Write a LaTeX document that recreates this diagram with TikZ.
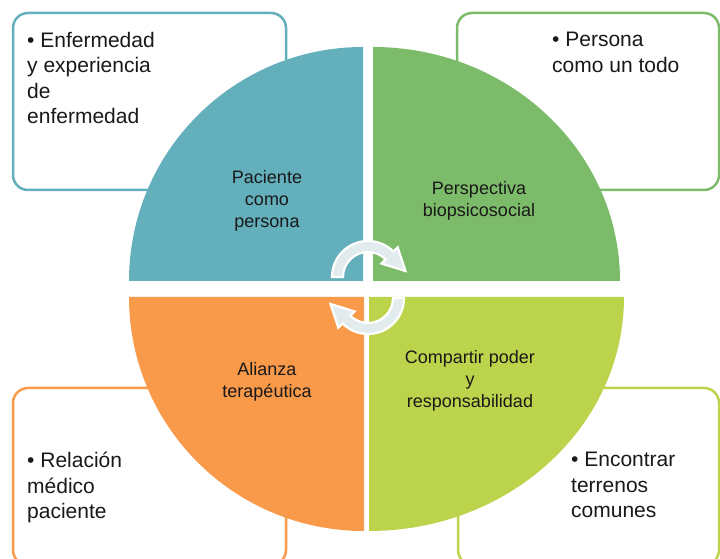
\documentclass[tikz,border=0pt]{standalone}
\usepackage{fontspec}
\setmainfont{Liberation Sans}

\definecolor{quadteal}{RGB}{99,176,188}
\definecolor{quadgreen}{RGB}{124,187,105}
\definecolor{quadorange}{RGB}{249,153,74}
\definecolor{quadlime}{RGB}{187,212,75}
\definecolor{arrowgray}{RGB}{226,236,239}
\definecolor{textgray}{RGB}{25,25,25}

\begin{document}
\begin{tikzpicture} [x=1pt,y=1pt,
			info box/.style={draw,rounded corners=15pt,line width=2.5pt,fill=white,minimum height=177pt},
			bullet text/.style={anchor=north west,inner sep=0pt,align=left,text=textgray,font=\fontsize{21}{25.5}\selectfont},
			quad text/.style={anchor=north,inner sep=0pt,align=center,text=textgray,font=\fontsize{18}{22}\selectfont},
			turn arrow/.style={fill=arrowgray,draw=white,line width=2.2pt}]

			\useasboundingbox (0,0) rectangle (720,559);
			\clip (0,0) rectangle (720,559);

			\node [info box, draw=quadteal, minimum width=273pt] (box-pp) at (149.5,457.5) {};
			\node [info box, draw=quadgreen, minimum width=262pt] (box-bs) at (588,457.5) {};
			\node [info box, draw=quadorange, minimum width=273pt] (box-at) at (149.5,82.5) {};
			\node [info box, draw=quadlime, minimum width=261pt] (box-cp) at (588.5,82.5) {};

			\fill [quadteal] (363,278) -- (129,278) arc [start angle=180, end angle=90, x radius=234pt, y radius=234pt] -- cycle;
			\fill [quadgreen] (373,278) -- (373,512) arc [start angle=90, end angle=0, x radius=247pt, y radius=234pt] -- cycle;
			\fill [quadorange] (364,262) -- (129,262) arc [start angle=180, end angle=270, x radius=235pt, y radius=234pt] -- cycle;
			\fill [quadlime] (369,262) -- (369,28) arc [start angle=270, end angle=360, x radius=255pt, y radius=234pt] -- cycle;

			\begin{scope} [shift={(368,282)}]
				\filldraw [turn arrow] (180:36pt) arc [start angle=180, end angle=45, radius=36pt] -- (45:42pt) -- (37.5,6)
					-- (45:19pt) -- (45:25pt) arc [start angle=45, end angle=180, radius=25pt] -- cycle;
			\end{scope}
			\begin{scope} [shift={(368,261)}]
				\filldraw [turn arrow] (0:36pt) arc [start angle=0, end angle=-135, radius=36pt] -- (-135:42pt) -- (-37.5,-6)
					-- (-135:19pt) -- (-135:25pt) arc [start angle=-135, end angle=0, radius=25pt] -- cycle;
			\end{scope}

			\node [quad text] (quad-pp) at (267,389) {Paciente\\como\\persona};
			\node [quad text] (quad-bs) at (479,378) {Perspectiva\\biopsicosocial};
			\node [quad text] (quad-at) at (267,197) {Alianza\\terapéutica};
			\node [quad text] (quad-cp) at (470,209) {Compartir poder\\y\\responsabilidad};

			\node [bullet text] (text-pp) at (27,527) {\textbullet{} Enfermedad\\y experiencia\\de\\enfermedad};
			\node [bullet text] (text-bs) at (552,527) {\textbullet{} Persona\\como un todo};
			\node [bullet text] (text-at) at (27,107) {\textbullet{} Relación\\médico\\paciente};
			\node [bullet text] (text-cp) at (571,107) {\textbullet{} Encontrar\\terrenos\\comunes};
		\end{tikzpicture}
\end{document}
